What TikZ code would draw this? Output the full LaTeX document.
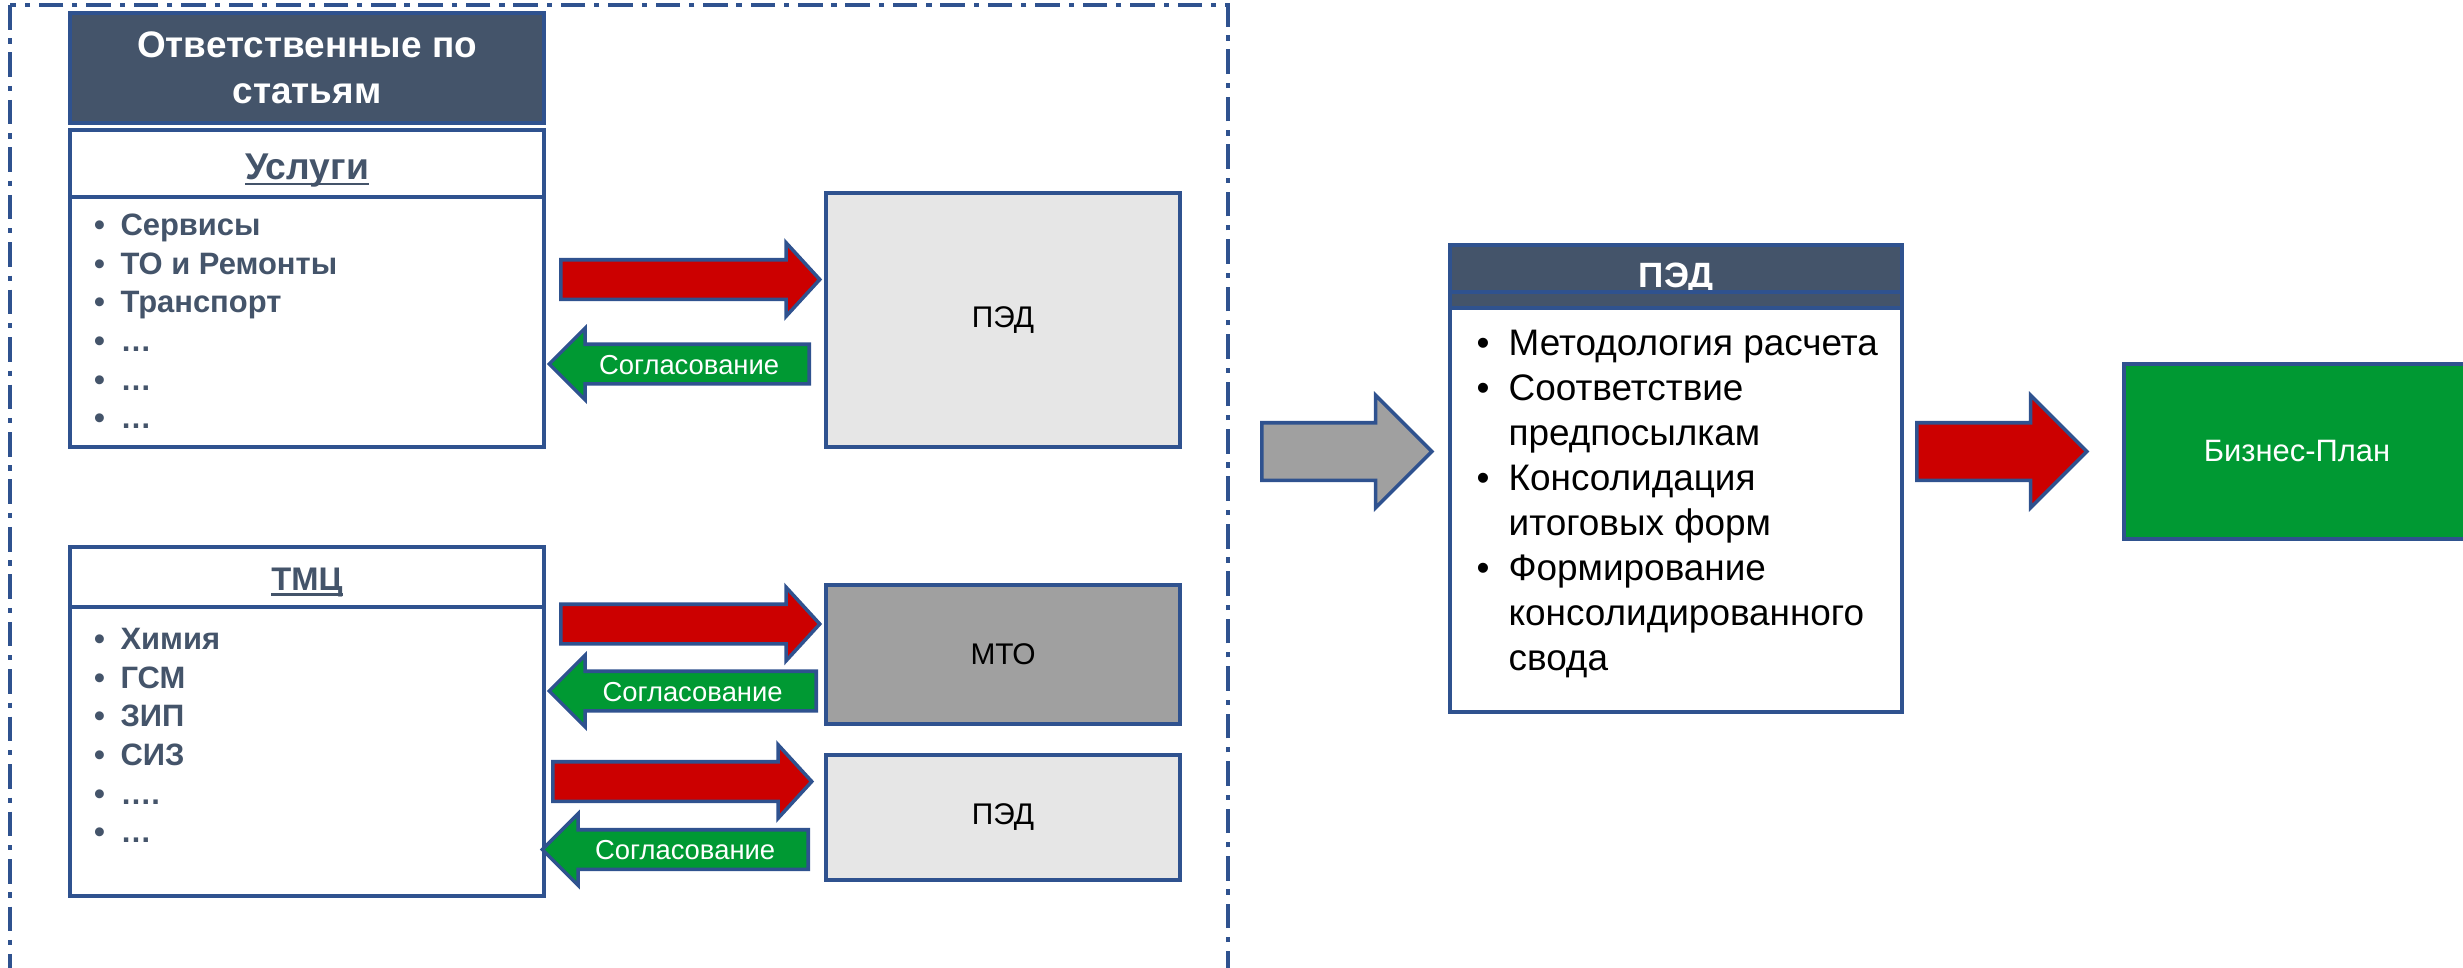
\documentclass[tikz,border=0pt]{standalone}
\usepackage{fontspec}
\setmainfont{Liberation Sans}
\usepackage{xcolor}
\usepackage{tikz}
\usetikzlibrary{shapes,arrows,positioning,calc}

\definecolor{bord}{RGB}{47,82,143}
\definecolor{slate}{RGB}{68,84,106}
\definecolor{arrred}{RGB}{204,0,0}
\definecolor{arrgreen}{RGB}{0,153,51}
\definecolor{midgray}{RGB}{160,160,160}
\definecolor{palegray}{RGB}{230,230,230}

% thick underline for the list titles
\newcommand{\titleul}[1]{\setbox0\hbox{#1}\rlap{\rule[-1.7pt]{\wd0}{0.8pt}}\box0}

\begin{document}
\begin{tikzpicture}[
    box/.style={rectangle, draw=bord, line width=1.2pt, inner sep=0pt, outer sep=0pt},
    headbox/.style={box, fill=slate, text=white, font=\bfseries\fontsize{10.5}{13}\selectfont, align=center},
    titlebox/.style={box, fill=white, text=slate, font=\bfseries\fontsize{10.6}{12}\selectfont, text depth=0cm},
    listbox/.style={box, fill=white},
    itemlist/.style={anchor=north west, inner sep=0pt, text=slate, font=\bfseries\fontsize{8.8}{10.98}\selectfont},
    unitbox/.style={box, minimum width=3.54cm, font=\fontsize{8.5}{10}\selectfont},
    blockarrow/.style={single arrow, draw=bord, line width=1pt, inner xsep=0pt, single arrow head indent=0pt, anchor=tail},
    fwdarrow/.style={blockarrow, fill=arrred, inner ysep=0.18cm, single arrow head extend=0.17cm, single arrow tip angle=95},
    backarrow/.style={blockarrow, fill=arrgreen, shape border rotate=180, text=white, font=\fontsize{7.8}{9}\selectfont, inner ysep=0.03cm, text height=0.25cm, text depth=0.05cm, single arrow head extend=0.16cm, single arrow tip angle=90},
    bigarrow/.style={blockarrow, inner ysep=0.27cm, single arrow head extend=0.275cm, single arrow tip angle=90, minimum height=1.70cm},
    frame/.style={draw=bord, line width=0.9pt, dash pattern=on 7pt off 2.5pt on 1.5pt off 2.5pt}
]
\useasboundingbox (0,0) rectangle (24.63,-9.67);

% outer frame round the item owners
\draw[frame] (0.10,-0.05) rectangle (12.28,-10.2);

% left column
\node[headbox, minimum width=4.74cm, minimum height=1.10cm] (owners) at (3.07,-0.68) {Ответственные по\\статьям};
\node[titlebox, minimum width=4.74cm, minimum height=0.67cm, text height=0.32cm, below=0.07cm of owners] (usltitle) {\titleul{Услуги}};
\node[listbox, minimum width=4.74cm, minimum height=2.50cm, below=0pt of usltitle] (usllist) {};
\node[itemlist] (uslitems) at (0.935,-2.08) {\begin{tabular}{@{}l@{\hspace{0.155cm}}l@{}}
\textbullet & Сервисы\\
\textbullet & ТО и Ремонты\\
\textbullet & Транспорт\\
\textbullet & …\\
\textbullet & …\\
\textbullet & …
\end{tabular}};

\node[titlebox, minimum width=4.74cm, minimum height=0.60cm, text height=0.26cm, font=\bfseries\fontsize{9.3}{11}\selectfont] (tmctitle) at (3.07,-5.77) {\titleul{ТМЦ}};
\node[listbox, minimum width=4.74cm, minimum height=2.89cm, below=0pt of tmctitle] (tmclist) {};
\node[itemlist] (tmcitems) at (0.935,-6.22) {\begin{tabular}{@{}l@{\hspace{0.155cm}}l@{}}
\textbullet & Химия\\
\textbullet & ГСМ\\
\textbullet & ЗИП\\
\textbullet & СИЗ\\
\textbullet & ….\\
\textbullet & …
\end{tabular}};

% units
\node[unitbox, fill=palegray, minimum height=2.54cm] (ped1) at (10.03,-3.20) {ПЭД};
\node[unitbox, fill=midgray, minimum height=1.39cm] (mto) at (10.03,-6.545) {МТО};
\node[unitbox, fill=palegray, minimum height=1.25cm] (ped2) at (10.03,-8.175) {ПЭД};

% exchange arrows
\node[fwdarrow, minimum height=2.59cm] (r1) at (5.59,-2.795) {};
\node[backarrow, minimum height=2.60cm] (g1) at (8.11,-3.64) {Согласование};
\node[fwdarrow, minimum height=2.59cm] (r2) at (5.59,-6.24) {};
\node[backarrow, minimum height=2.67cm] (g2) at (8.18,-6.91) {Согласование};
\node[fwdarrow, minimum height=2.59cm] (r3) at (5.51,-7.815) {};
\node[backarrow, minimum height=2.66cm] (g3) at (8.10,-8.495) {Согласование};

% consolidation
\node[bigarrow, fill=midgray] (toped) at (12.60,-4.515) {};
\node[headbox, minimum width=4.52cm, minimum height=0.63cm, font=\bfseries\fontsize{10}{12}\selectfont, text height=0.21cm, text depth=0cm] (pedhead) at (16.76,-2.765) {ПЭД};
\draw[bord, line width=1.2pt] ($(pedhead.west)+(0,-0.155)$) -- ($(pedhead.east)+(0,-0.155)$);
\node[listbox, minimum width=4.52cm, minimum height=4.04cm, below=0pt of pedhead] (pedlist) {};
\node[anchor=north west, inner sep=0pt, font=\fontsize{10.5}{12.8}\selectfont] (peditems) at (14.76,-3.23) {\begin{tabular}{@{}l@{\hspace{0.19cm}}l@{}}
\textbullet & Методология расчета\\
\textbullet & Соответствие\\
 & предпосылкам\\
\textbullet & Консолидация\\
 & итоговых форм\\
\textbullet & Формирование\\
 & консолидированного\\
 & свода
\end{tabular}};

\node[bigarrow, fill=arrred] (tobp) at (19.15,-4.515) {};
\node[box, fill=arrgreen, text=white, minimum width=3.46cm, minimum height=1.75cm, font=\fontsize{8.8}{10}\selectfont] (bp) at (22.97,-4.515) {Бизнес-План};

\end{tikzpicture}
\end{document}
